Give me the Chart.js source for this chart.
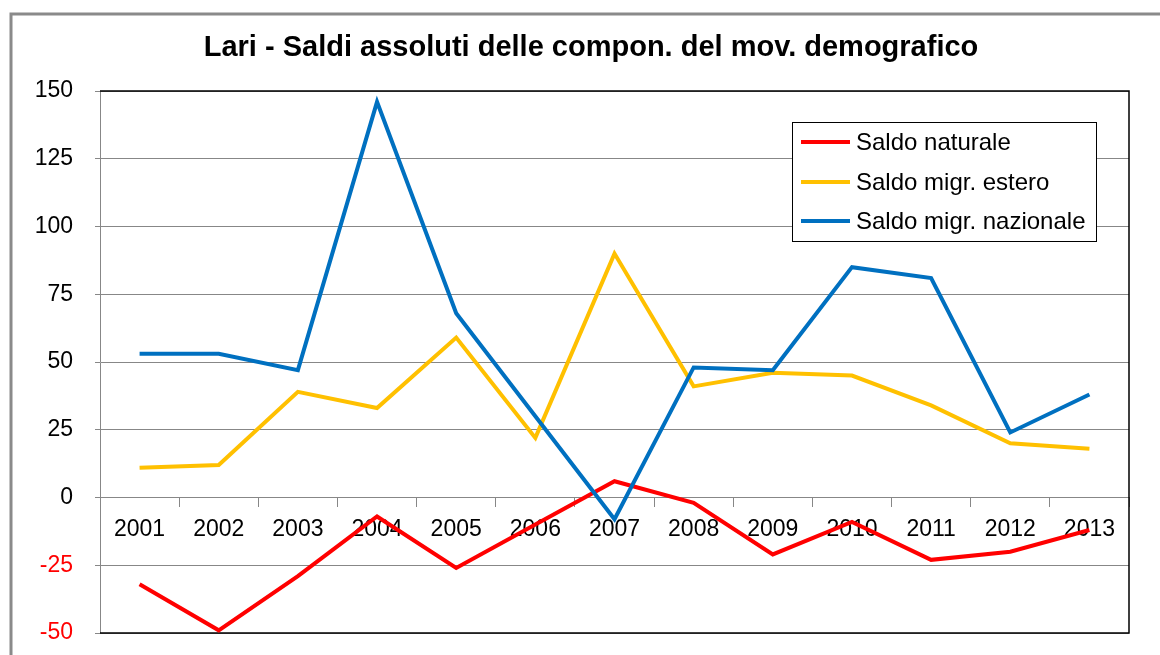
<!DOCTYPE html>
<html>
<head>
<meta charset="utf-8">
<script src="https://cdn.jsdelivr.net/npm/chart.js@4/dist/chart.umd.min.js"></script>
<style>
html,body{margin:0;padding:0;background:#fff;}
#wrap{width:1160px;height:655px;position:relative;}
</style>
</head>
<body>
<div id="wrap"><canvas id="c" width="1160" height="655"></canvas></div>
<script>
const TITLE = "Lari - Saldi assoluti delle compon. del mov. demografico";
const years = ["2001","2002","2003","2004","2005","2006","2007","2008","2009","2010","2011","2012","2013"];
const seriesNames = ["Saldo naturale","Saldo migr. estero","Saldo migr. nazionale"];
const saldoNaturale = [-32,-49,-29,-7,-26,-10,6,-2,-21,-9,-23,-20,-12];
const saldoEstero = [11,12,39,33,59,22,90,41,46,45,34,20,18];
const saldoNazionale = [53,53,47,146,68,30,-8,48,47,85,81,24,38];
const seriesColors = ["#FF0000","#FFC000","#0070C0"];
const yMin = -50, yMax = 150, yStep = 25;

const FONT = "'Liberation Sans', Arial, sans-serif";
const GRID = "#878787";

const framePlugin = {
  id: 'frame',
  beforeDraw(chart){
    const ctx = chart.ctx;
    ctx.save();
    ctx.fillStyle = '#fff';
    ctx.fillRect(0,0,chart.width,chart.height);
    ctx.strokeStyle = '#8a8a8a';
    ctx.lineWidth = 3;
    ctx.strokeRect(11, 14, 1300, 800);
    ctx.fillStyle = '#000';
    ctx.font = "bold 29px " + FONT;
    ctx.textAlign = 'center';
    ctx.textBaseline = 'middle';
    ctx.fillText(TITLE, 591, 48);
    ctx.restore();
  },
  beforeDatasetsDraw(chart){
    const ctx = chart.ctx, a = chart.chartArea;
    ctx.save();
    ctx.strokeStyle = '#000';
    ctx.lineWidth = 1.5;
    ctx.beginPath();
    ctx.moveTo(a.left, a.top); ctx.lineTo(a.right, a.top);
    ctx.lineTo(a.right, a.bottom); ctx.lineTo(a.left, a.bottom);
    ctx.stroke();
    ctx.restore();
  },
  afterDraw(chart){
    const ctx = chart.ctx;
    ctx.save();
    const bx = 792, by = 122, bw = 304, bh = 119;
    ctx.fillStyle = '#fff';
    ctx.fillRect(bx, by, bw, bh);
    ctx.strokeStyle = '#000';
    ctx.lineWidth = 1;
    ctx.strokeRect(bx + 0.5, by + 0.5, bw, bh);
    const rows = [142, 182, 221];
    ctx.font = "24px " + FONT;
    ctx.textAlign = 'left';
    ctx.textBaseline = 'middle';
    chart.data.datasets.forEach((ds, i) => {
      ctx.strokeStyle = ds.borderColor;
      ctx.lineWidth = 4;
      ctx.beginPath();
      ctx.moveTo(801, rows[i]); ctx.lineTo(850, rows[i]);
      ctx.stroke();
      ctx.fillStyle = '#000';
      ctx.fillText(ds.label, 856, rows[i] + 1);
    });
    ctx.restore();
  }
};

const seriesData = [saldoNaturale, saldoEstero, saldoNazionale];
const datasets = seriesNames.map((name, i) => ({
  label: name,
  data: seriesData[i],
  borderColor: seriesColors[i],
  backgroundColor: seriesColors[i],
  borderWidth: 4,
  pointRadius: 0,
  tension: 0,
  fill: false,
  borderJoinStyle: 'miter',
  order: 3 - i
}));

new Chart(document.getElementById('c'), {
  type: 'line',
  data: { labels: years, datasets },
  options: {
    responsive: false,
    animation: false,
    devicePixelRatio: 1,
    layout: { padding: { top: 91, left: 0, right: 31, bottom: 22 } },
    plugins: {
      legend: { display: false },
      title: { display: false },
      tooltip: { enabled: false }
    },
    scales: {
      x: {
        type: 'category',
        position: { y: 0 },
        offset: true,
        afterFit(s){ s.height = 0; },
        grid: { display: true, drawOnChartArea: false, drawTicks: true, tickLength: 9, tickColor: GRID, offset: true },
        border: { display: true, color: GRID, width: 1 },
        ticks: { color: '#000', font: { family: FONT, size: 23 }, padding: 9, maxRotation: 0, autoSkip: false }
      },
      y: {
        min: yMin, max: yMax,
        afterFit(s){ s.width = 100; s.paddingTop = 0; s.paddingBottom = 0; },
        grid: { color: GRID, lineWidth: 1, tickLength: 5, tickColor: GRID },
        border: { display: true, color: GRID, width: 1 },
        ticks: {
          stepSize: yStep,
          padding: 22,
          font: { family: FONT, size: 23 },
          color: ctx => (ctx.tick && ctx.tick.value < 0) ? '#FF0000' : '#000'
        }
      }
    }
  },
  plugins: [framePlugin]
});
</script>
</body>
</html>
